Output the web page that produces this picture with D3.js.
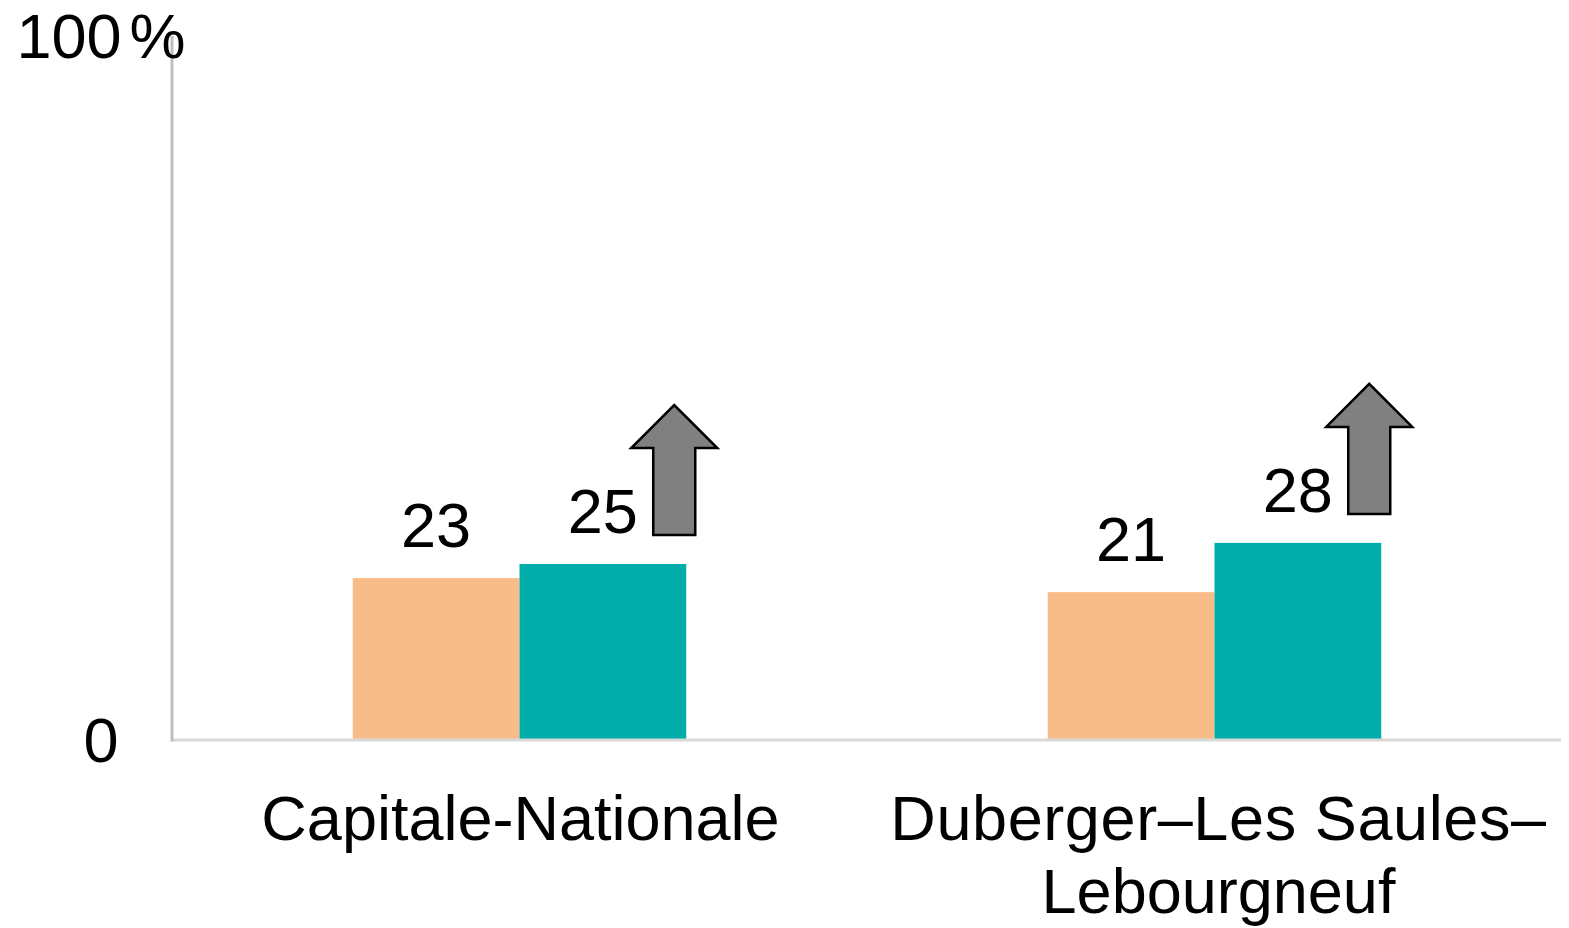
<!DOCTYPE html>
<html>
<head>
<meta charset="utf-8">
<script src="https://cdn.jsdelivr.net/npm/d3@7"></script>
<style>
  html, body { margin: 0; padding: 0; background: #ffffff; }
  svg { display: block; font-family: "Liberation Sans", Arial, sans-serif; }
</style>
</head>
<body>
<svg id="chart" width="1569" height="928"></svg>
<script>
// Regions and the two survey periods compared
const categories = ["Capitale-Nationale", "Duberger–Les Saules–Lebourgneuf"];
const categoryLines = [["Capitale-Nationale"], ["Duberger–Les Saules–", "Lebourgneuf"]];
const series = ["avant", "après"];
const valuesBefore = [23, 21];
const valuesAfter = [25, 28];
// Significant increase flag for the later period
const increaseFlags = [true, true];
const yTicks = [0, 100];
const yTickLabels = ["0", "100%"];
const colors = ["#F8BC88", "#00ADA9"];

const svg = d3.select("#chart");
const margin = { left: 172, right: 7, top: 36, bottom: 188 };
const W = 1569, H = 928;
const fontSize = 63;

const y = d3.scaleLinear().domain([0, 100]).range([H - margin.bottom, margin.top]);
const x0 = d3.scaleBand().domain(categories).range([margin.left, W - margin.right]).padding(0);
const x1 = d3.scaleBand().domain(series).range([0, x0.bandwidth()]).paddingInner(0).paddingOuter(1.084);

const rows = categories.map((c, i) => ({
  cat: c, i,
  vals: [{ s: series[0], v: valuesBefore[i] }, { s: series[1], v: valuesAfter[i] }]
}));

// Bars
const groups = svg.append("g").selectAll("g").data(rows).join("g")
  .attr("transform", d => `translate(${x0(d.cat)},0)`);

groups.selectAll("rect").data(d => d.vals).join("rect")
  .attr("x", d => x1(d.s))
  .attr("y", d => y(d.v))
  .attr("width", x1.bandwidth())
  .attr("height", d => y(0) - y(d.v))
  .attr("fill", (d, j) => colors[j]);

// Value labels
groups.selectAll("text.val").data(d => d.vals).join("text")
  .attr("class", "val")
  .attr("x", d => x1(d.s) + x1.bandwidth() / 2)
  .attr("y", d => y(d.v) - 31)
  .attr("text-anchor", "middle")
  .attr("font-size", fontSize)
  .attr("fill", "#000")
  .text(d => d.v);

// Upward arrows marking a significant increase
const shaftW = 42, headW = 86, headH = 43, arrowH = 130;
groups.filter(d => increaseFlags[d.i]).append("path")
  .attr("d", d => {
    const v = d.vals[1].v;
    const left = x1(series[1]) + x1.bandwidth() - 33;
    const bottom = y(v) - 29;
    const cx = left + shaftW / 2;
    const top = bottom - arrowH;
    const neck = top + headH;
    return `M${left},${bottom} L${left},${neck} L${cx - headW / 2},${neck} L${cx},${top}` +
           ` L${cx + headW / 2},${neck} L${left + shaftW},${neck} L${left + shaftW},${bottom} Z`;
  })
  .attr("fill", "#808080")
  .attr("stroke", "#000")
  .attr("stroke-width", 2.5)
  .attr("stroke-linejoin", "miter");

// Axes lines
svg.append("line")
  .attr("x1", margin.left).attr("x2", W - 8)
  .attr("y1", y(0)).attr("y2", y(0))
  .attr("stroke", "#D9D9D9").attr("stroke-width", 3);
svg.append("line")
  .attr("x1", margin.left).attr("x2", margin.left)
  .attr("y1", y(100)).attr("y2", y(0) + 1.5)
  .attr("stroke", "#BFBFBF").attr("stroke-width", 3);

// Y tick labels
svg.append("g").selectAll("text").data(yTicks).join("text")
  .attr("x", 101)
  .attr("y", d => y(d) + 22)
  .attr("text-anchor", "middle")
  .attr("font-size", fontSize)
  .attr("fill", "#000")
  .each(function (d, i) {
    const t = d3.select(this);
    const label = yTickLabels[i];
    if (label.endsWith("%")) {
      t.append("tspan").text(label.slice(0, -1));
      t.append("tspan").attr("dx", 8).text("%");
    } else {
      t.text(label);
    }
  });

// Category labels
const labelX = d => x0(d.cat) + x0.bandwidth() / 2 + (d.i === 1 ? 4 : 1);
svg.append("g").selectAll("text").data(rows).join("text")
  .attr("x", labelX)
  .attr("y", 840)
  .attr("text-anchor", "middle")
  .attr("font-size", fontSize)
  .attr("fill", "#000")
  .each(function (d) {
    const t = d3.select(this);
    categoryLines[d.i].forEach((line, k) => {
      t.append("tspan")
        .attr("x", labelX(d))
        .attr("dy", k === 0 ? 0 : 73)
        .attr("letter-spacing", d.i === 1 && k === 0 ? 0.6 : 0)
        .text(line);
    });
  });
</script>
</body>
</html>
